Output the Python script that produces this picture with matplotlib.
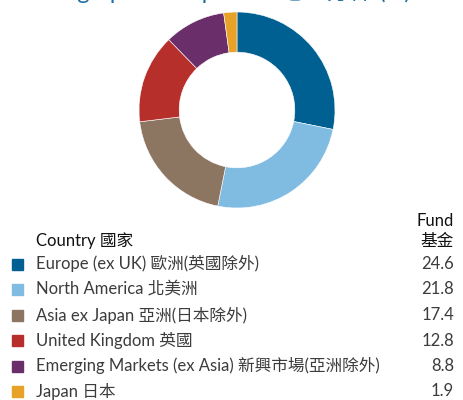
import matplotlib.pyplot as plt

plt.rcParams['font.family'] = ['Lato', 'Noto Sans CJK TC', 'DejaVu Sans']

# country allocation of the fund, in %
countries = ['Europe (ex UK) 歐洲(英國除外)', 'North America 北美洲',
             'Asia ex Japan 亞洲(日本除外)', 'United Kingdom 英國',
             'Emerging Markets (ex Asia) 新興市場(亞洲除外)', 'Japan 日本']
fund = [24.6, 21.8, 17.4, 12.8, 8.8, 1.9]
colors = ['#006092', '#80bce2', '#8c7662', '#b72f2b', '#6a2e6a', '#e8a227']

title = 'Geographical Exposure 地區分佈 (%)'

fig = plt.figure(figsize=(4.63, 4.00), dpi=100)
W, H = 463, 400

# title sits mostly above the top edge
fig.text(222 / W, 1.0 + 1.5 / H, title, ha='center', va='baseline',
         fontsize=17, color='#1f6fa3')

# donut
cx, cy, r = 237, 110, 98
ax = fig.add_axes([(cx - r) / W, 1 - (cy + r) / H, 2 * r / W, 2 * r / H])
ax.pie(fund, colors=colors, startangle=90, counterclock=False,
       radius=1.0, wedgeprops=dict(width=0.41, edgecolor='white', linewidth=0.4))
ax.set_xlim(-1, 1)
ax.set_ylim(-1, 1)
ax.set_aspect('auto')
ax.axis('off')

# legend table
txt = '#3c3c3c'
fs = 12
fig.text(36 / W, 1 - 241 / H, 'Country 國家', fontsize=fs, color='#111111',
         va='center', ha='left')
fig.text(454 / W, 1 - 221 / H, 'Fund', fontsize=fs, color='#111111',
         va='center', ha='right')
fig.text(454 / W, 1 - 241 / H, '基金', fontsize=fs, color='#111111',
         va='center', ha='right')

row_y = [264, 289.5, 315, 340.5, 366, 391.5]
for name, val, col, y in zip(countries, fund, colors, row_y):
    fig.patches.append(plt.Rectangle((12 / W, 1 - (y + 5.5) / H), 11 / W, 11 / H,
                                     transform=fig.transFigure, color=col))
    fig.text(36 / W, 1 - y / H, name, fontsize=fs, color=txt,
             va='center', ha='left')
    fig.text(454 / W, 1 - y / H, f'{val:.1f}', fontsize=fs, color=txt,
             va='center', ha='right')

fig.savefig('out.png', dpi=100)
